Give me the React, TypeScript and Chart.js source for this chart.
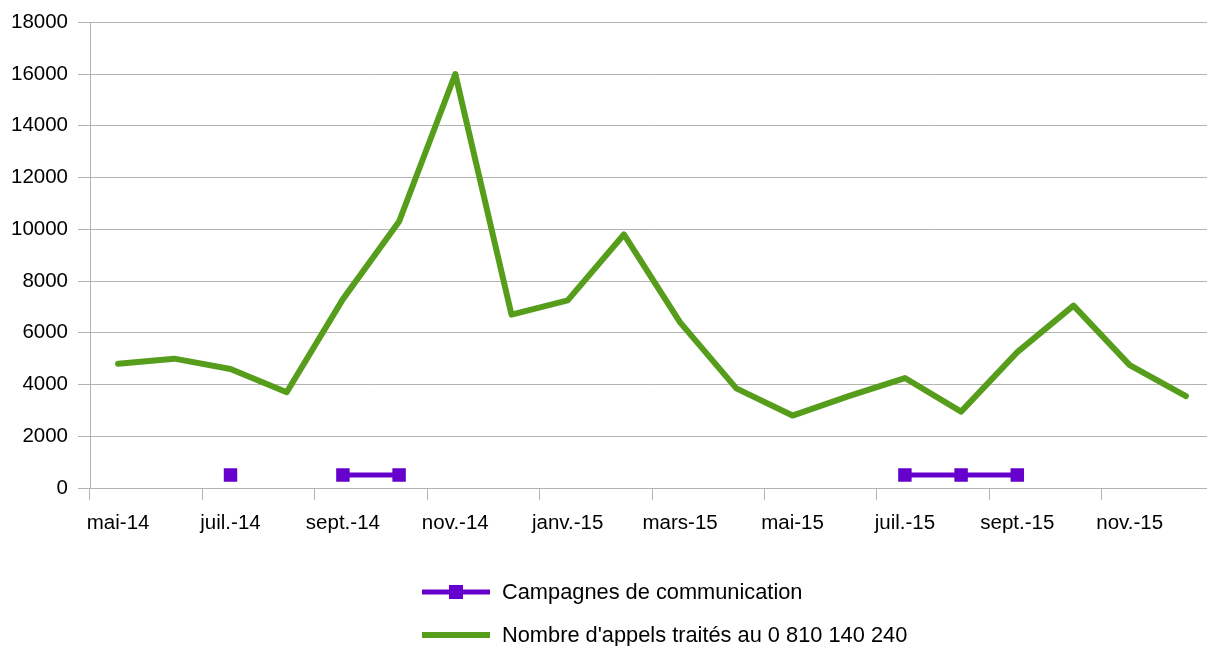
import React, { useEffect, useRef } from "react";
import Chart from "chart.js/auto";

const months = [
  "mai-14", "juin-14", "juil.-14", "août-14", "sept.-14", "oct.-14", "nov.-14", "déc.-14",
  "janv.-15", "févr.-15", "mars-15", "avr.-15", "mai-15", "juin-15", "juil.-15", "août-15",
  "sept.-15", "oct.-15", "nov.-15", "déc.-15",
];

const campagnes: (number | null)[] = [
  null, null, 500, null, 500, 500, null, null, null, null,
  null, null, null, null, 500, 500, 500, null, null, null,
];

const appels = [
  4800, 5000, 4600, 3700, 7300, 10300, 16000, 6700, 7250, 9800,
  6400, 3850, 2800, 3550, 4250, 2950, 5250, 7050, 4750, 3550,
];

const seriesNames = ["Campagnes de communication", "Nombre d'appels traités au 0 810 140 240"];
const PURPLE = "#6600cc";
const GREEN = "#579d1c";
const GRID = "#b3b3b3";
const FONT = "'Liberation Sans', Arial, sans-serif";

export default function App() {
  const ref = useRef<HTMLCanvasElement | null>(null);

  useEffect(() => {
    if (!ref.current) return;
    const chart = new Chart(ref.current, {
      type: "line",
      data: {
        labels: months,
        datasets: [
          {
            label: seriesNames[0],
            data: campagnes,
            borderColor: PURPLE,
            backgroundColor: PURPLE,
            borderWidth: 5,
            pointStyle: "rect",
            pointRadius: 9.5,
            pointBorderWidth: 0,
            pointBackgroundColor: PURPLE,
            spanGaps: false,
          },
          {
            label: seriesNames[1],
            data: appels,
            borderColor: GREEN,
            backgroundColor: GREEN,
            borderWidth: 6,
            pointRadius: 0,
            borderJoinStyle: "round",
            borderCapStyle: "round",
          },
        ],
      },
      options: {
        responsive: false,
        animation: false,
        layout: { autoPadding: false, padding: { top: 22, right: 0, left: 0, bottom: 0 } },
        plugins: { legend: { display: false }, tooltip: { enabled: false } },
        scales: {
          x: {
            offset: true,
            grid: {
              offset: true,
              drawOnChartArea: false,
              drawTicks: true,
              tickLength: 12,
              tickColor: (ctx: any) => (ctx.index % 2 === 0 && ctx.index < months.length ? GRID : "transparent"),
            },
            border: { color: GRID, width: 1 },
            ticks: {
              autoSkip: false,
              maxRotation: 0,
              padding: 11,
              color: "#000",
              font: { family: FONT, size: 20.5 },
              callback: (_v: any, i: number) => (i % 2 === 0 ? months[i] : ""),
            },
            afterFit: (scale: any) => {
              scale.height = 158;
              scale.paddingRight = 0;
              scale.paddingLeft = 0;
            },
          },
          y: {
            min: 0,
            max: 18000,
            ticks: {
              stepSize: 2000,
              padding: 10,
              color: "#000",
              font: { family: FONT, size: 20.5 },
              callback: (v: any) => String(v),
            },
            grid: { color: GRID, tickLength: 12, tickColor: GRID, lineWidth: 1 },
            border: { color: GRID, width: 1 },
            afterFit: (scale: any) => {
              scale.width = 90;
            },
          },
        },
      },
    });
    return () => chart.destroy();
  }, []);

  const legendRow = (i: number, center: number) => (
    <div
      key={i}
      style={{
        position: "absolute",
        left: 422,
        top: center - 13,
        height: 26,
        display: "flex",
        alignItems: "center",
        whiteSpace: "nowrap",
      }}
    >
      <svg width={68} height={26} style={{ display: "block" }}>
        <line
          x1={0}
          y1={13}
          x2={68}
          y2={13}
          stroke={i === 0 ? PURPLE : GREEN}
          strokeWidth={i === 0 ? 5 : 6}
        />
        {i === 0 && <rect x={27} y={6} width={14} height={14} fill={PURPLE} />}
      </svg>
      <span style={{ marginLeft: 12, fontFamily: FONT, fontSize: 21.8, color: "#000", lineHeight: "26px" }}>
        {seriesNames[i]}
      </span>
    </div>
  );

  return (
    <div style={{ position: "absolute", left: 0, top: 0, width: 1207, height: 646, background: "#fff", overflow: "hidden" }}>
      <canvas ref={ref} width={1214} height={646} style={{ display: "block" }} />
      {legendRow(0, 592)}
      {legendRow(1, 635)}
    </div>
  );
}
